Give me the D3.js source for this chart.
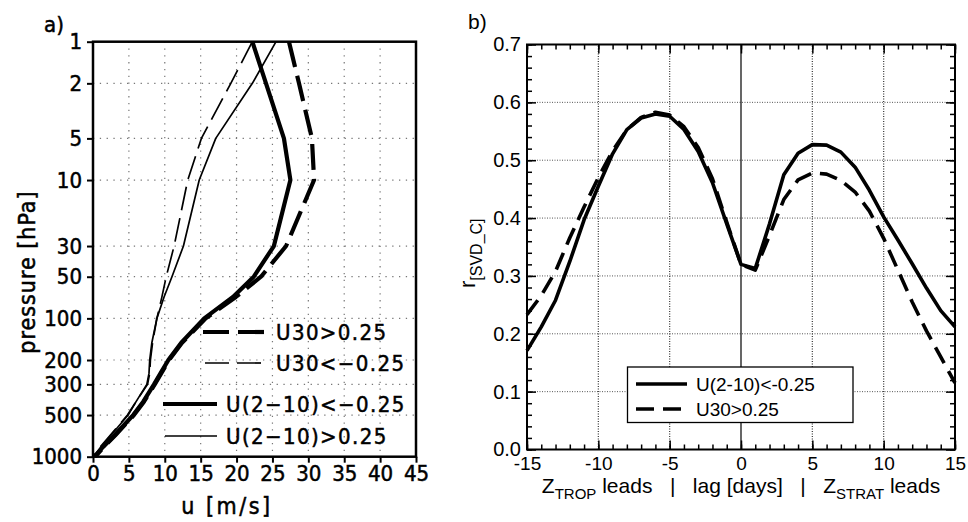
<!DOCTYPE html>
<html>
<head>
<meta charset="utf-8">
<script src="https://cdn.jsdelivr.net/npm/d3@7"></script>
<style>
  body { margin: 0; background: white; }
  .fa text { font-family: "DejaVu Sans Condensed", "DejaVu Sans", sans-serif; font-stretch: condensed; }
  .fb text { font-family: "Liberation Sans", Arial, sans-serif; }
</style>
</head>
<body>
<div id="container"></div>
<script>
let w = 968;
let h = 522;

// ---- panel a data: zonal wind profiles ----
let pLevels = [1, 2, 5, 10, 30, 50, 70, 100, 150, 200, 250, 300, 400, 500, 700, 850, 1000];
let uU30pos   = [27.3, 28.7, 30.5, 30.8, 26.9, 23.4, 19.9, 15.7, 12.4, 10.6, 9.5, 8.6, 7.1, 5.7, 3.1, 1.5, 0.3];   // U30>0.25
let uU30neg   = [22.2, 19.2, 15.1, 13.2, 11.3, 10.2, 9.6, 8.9, 8.3, 8.0, 7.9, 7.6, 6.0, 4.8, 2.4, 1.0, 0.0];     // U30<-0.25
let uU210neg  = [22.2, 24.1, 26.6, 27.5, 25.2, 22.4, 19.5, 15.5, 12.3, 10.5, 9.4, 8.5, 7.0, 5.6, 3.0, 1.4, 0.2];  // U(2-10)<-0.25
let uU210pos  = [25.5, 22.2, 17.1, 14.8, 12.6, 11.0, 9.9, 8.9, 8.2, 7.9, 7.8, 7.5, 6.0, 4.9, 2.5, 1.1, 0.1];      // U(2-10)>0.25
let pTicks = [1, 2, 5, 10, 30, 50, 100, 200, 300, 500, 1000];
let uTicks = [0, 5, 10, 15, 20, 25, 30, 35, 40, 45];

// ---- panel b data: lagged correlation ----
let lags = d3.range(-15, 16);
let rU210neg = [0.171, 0.212, 0.258, 0.325, 0.397, 0.455, 0.511, 0.553, 0.573, 0.580, 0.576, 0.553, 0.515, 0.461, 0.390, 0.320,
                0.313, 0.390, 0.475, 0.512, 0.527, 0.526, 0.514, 0.488, 0.448, 0.402, 0.362, 0.321, 0.279, 0.240, 0.212];
let rU30pos  = [0.233, 0.266, 0.308, 0.366, 0.419, 0.470, 0.516, 0.553, 0.574, 0.583, 0.578, 0.558, 0.522, 0.468, 0.393, 0.320,
                0.310, 0.370, 0.432, 0.466, 0.478, 0.476, 0.465, 0.445, 0.412, 0.365, 0.310, 0.255, 0.205, 0.160, 0.115];
let rTicks = [0, 0.1, 0.2, 0.3, 0.4, 0.5, 0.6, 0.7];
let lagTicks = [-15, -10, -5, 0, 5, 10, 15];

let viz = d3.select("#container")
  .append("svg")
    .attr("width", w)
    .attr("height", h)
    .style("background-color", "white");

// ================= panel a =================
let xA = d3.scaleLinear().domain([0, 45]).range([93, 416]);
let yA = d3.scaleLog().domain([1, 1000]).range([41.7, 456.7]);

let ga = viz.append("g").attr("class", "fa");

// dotted grid
ga.selectAll(".gy").data(pTicks.slice(1, -1)).enter().append("line")
  .attr("x1", xA(0)).attr("x2", xA(45))
  .attr("y1", d => yA(d)).attr("y2", d => yA(d))
  .attr("stroke", "#777").attr("stroke-width", 1.2).attr("stroke-dasharray", "1.3,5.5");
ga.selectAll(".gx").data(uTicks.slice(1, -1)).enter().append("line")
  .attr("y1", yA(1)).attr("y2", yA(1000))
  .attr("x1", d => xA(d)).attr("x2", d => xA(d))
  .attr("stroke", "#777").attr("stroke-width", 1.2).attr("stroke-dasharray", "1.3,5.5");

// axes
let axA_left = ga.append("g").attr("transform", "translate(" + xA(0) + ",0)")
  .call(d3.axisLeft(yA).tickValues(pTicks).tickFormat(d => String(d)).tickSize(6).tickPadding(5));
let axA_bot = ga.append("g").attr("transform", "translate(0," + yA(1000) + ")")
  .call(d3.axisBottom(xA).tickValues(uTicks).tickFormat(d => String(d)).tickSize(6).tickPadding(3));
[axA_left, axA_bot].forEach(a => {
  a.select(".domain").remove();
  a.selectAll(".tick line").attr("stroke", "#000").attr("stroke-width", 2);
  a.selectAll("text").attr("font-size", 22).attr("fill", "#000")
    .attr("stroke", "#000").attr("stroke-width", 0.5);
});

ga.append("rect")
  .attr("x", xA(0)).attr("y", yA(1))
  .attr("width", xA(45) - xA(0)).attr("height", yA(1000) - yA(1))
  .attr("fill", "none").attr("stroke", "#000").attr("stroke-width", 2.5);

let lineA = d3.line().x(d => xA(d[0])).y(d => yA(d[1]));
let seriesA = [
  {vals: uU30neg,  sw: 1.7, dash: "24,8", label: "U30<\u22120.25"},
  {vals: uU210pos, sw: 1.7, dash: null,   label: "U(2\u221210)>0.25"},
  {vals: uU30pos,  sw: 4.2, dash: "26,9", label: "U30>0.25"},
  {vals: uU210neg, sw: 4.2, dash: null,   label: "U(2\u221210)<\u22120.25"}
];
seriesA.forEach(s => {
  ga.append("path")
    .datum(s.vals.map((u, i) => [u, pLevels[i]]))
    .attr("d", lineA)
    .attr("fill", "none").attr("stroke", "#000")
    .attr("stroke-width", s.sw)
    .attr("stroke-dasharray", s.dash)
    .attr("stroke-linejoin", "round");
});

// legend a
let legA = [
  {s: seriesA[2], x1: 203, x2: 265, y: 332, tx: 276},
  {s: seriesA[0], x1: 205, x2: 265, y: 363, tx: 276},
  {s: seriesA[3], x1: 163, x2: 217, y: 404, tx: 226},
  {s: seriesA[1], x1: 165, x2: 217, y: 436, tx: 226}
];
legA.forEach(l => {
  ga.append("line").attr("x1", l.x1).attr("x2", l.x2).attr("y1", l.y).attr("y2", l.y)
    .attr("stroke", "#000").attr("stroke-width", l.s.sw).attr("stroke-dasharray", l.s.dash);
  ga.append("text").attr("x", l.tx).attr("y", l.y + 8)
    .attr("font-size", 22).attr("letter-spacing", 1.4)
    .attr("stroke", "#000").attr("stroke-width", 0.5)
    .text(l.s.label);
});

ga.append("text").attr("x", 227).attr("y", 514).attr("text-anchor", "middle")
  .attr("font-size", 23).attr("letter-spacing", 2.5)
  .attr("stroke", "#000").attr("stroke-width", 0.5).text("u [m/s]");
ga.append("text").attr("transform", "translate(35,272) rotate(-90)").attr("text-anchor", "middle")
  .attr("font-size", 23).attr("letter-spacing", 1)
  .attr("stroke", "#000").attr("stroke-width", 0.5).text("pressure [hPa]");
ga.append("text").attr("x", 44).attr("y", 32).attr("font-size", 22)
  .attr("stroke", "#000").attr("stroke-width", 0.5).text("a)");

// ================= panel b =================
let xB = d3.scaleLinear().domain([-15, 15]).range([527, 955]);
let yB = d3.scaleLinear().domain([0, 0.7]).range([449.5, 44.5]);

let gb = viz.append("g").attr("class", "fb");

gb.selectAll(".gy").data(rTicks.slice(1, -1)).enter().append("line")
  .attr("x1", xB(-15)).attr("x2", xB(15))
  .attr("y1", d => yB(d)).attr("y2", d => yB(d))
  .attr("stroke", "#555").attr("stroke-width", 1).attr("stroke-dasharray", "1,1.5");
gb.selectAll(".gx").data([-10, -5, 5, 10]).enter().append("line")
  .attr("y1", yB(0)).attr("y2", yB(0.7))
  .attr("x1", d => xB(d)).attr("x2", d => xB(d))
  .attr("stroke", "#333").attr("stroke-width", 1.2).attr("stroke-dasharray", "1,1.5");
gb.append("line")
  .attr("y1", yB(0)).attr("y2", yB(0.7))
  .attr("x1", xB(0)).attr("x2", xB(0))
  .attr("stroke", "#000").attr("stroke-width", 1.2);

// ticks (inward, all sides)
function styleAx(a) {
  a.select(".domain").remove();
  a.selectAll(".tick line").attr("stroke", "#000").attr("stroke-width", 1.5);
  a.selectAll("text").attr("font-size", 20).attr("fill", "#000");
}
let minorR = d3.range(0, 0.701, 0.02);
let minorL = d3.range(-15, 16, 1);
styleAx(gb.append("g").attr("transform", "translate(" + xB(-15) + ",0)")
  .call(d3.axisLeft(yB).tickValues(rTicks).tickFormat(d3.format(".1f")).tickSize(-9).tickPadding(6)));
styleAx(gb.append("g").attr("transform", "translate(" + xB(-15) + ",0)")
  .call(d3.axisLeft(yB).tickValues(minorR).tickFormat("").tickSize(-5)));
styleAx(gb.append("g").attr("transform", "translate(" + xB(15) + ",0)")
  .call(d3.axisRight(yB).tickValues(rTicks).tickFormat("").tickSize(-9)));
styleAx(gb.append("g").attr("transform", "translate(" + xB(15) + ",0)")
  .call(d3.axisRight(yB).tickValues(minorR).tickFormat("").tickSize(-5)));
let axB_bot = gb.append("g").attr("transform", "translate(0," + yB(0) + ")")
  .call(d3.axisBottom(xB).tickValues(lagTicks).tickFormat(d => String(d)).tickSize(-9).tickPadding(7));
styleAx(axB_bot);
axB_bot.selectAll("text").attr("font-size", 19);
styleAx(gb.append("g").attr("transform", "translate(0," + yB(0) + ")")
  .call(d3.axisBottom(xB).tickValues(minorL).tickFormat("").tickSize(-5)));
styleAx(gb.append("g").attr("transform", "translate(0," + yB(0.7) + ")")
  .call(d3.axisTop(xB).tickValues(lagTicks).tickFormat("").tickSize(-9)));
styleAx(gb.append("g").attr("transform", "translate(0," + yB(0.7) + ")")
  .call(d3.axisTop(xB).tickValues(minorL).tickFormat("").tickSize(-5)));

gb.append("rect")
  .attr("x", xB(-15)).attr("y", yB(0.7))
  .attr("width", xB(15) - xB(-15)).attr("height", yB(0) - yB(0.7))
  .attr("fill", "none").attr("stroke", "#000").attr("stroke-width", 2);

let lineB = d3.line().x(d => xB(d[0])).y(d => yB(d[1]));
let seriesB = [
  {vals: rU30pos,  dash: "18,9", label: "U30>0.25"},
  {vals: rU210neg, dash: null,   label: "U(2-10)<-0.25"}
];
seriesB.forEach(s => {
  gb.append("path")
    .datum(s.vals.map((r, i) => [lags[i], r]))
    .attr("d", lineB)
    .attr("fill", "none").attr("stroke", "#000")
    .attr("stroke-width", 3.6)
    .attr("stroke-dasharray", s.dash)
    .attr("stroke-linejoin", "round");
});

// legend b
gb.append("rect").attr("x", 627.5).attr("y", 367).attr("width", 225.5).attr("height", 55.5)
  .attr("fill", "white").attr("stroke", "#000").attr("stroke-width", 1.3);
[{s: seriesB[1], y: 384}, {s: seriesB[0], y: 409}].forEach(l => {
  gb.append("line").attr("x1", 636).attr("x2", 687).attr("y1", l.y).attr("y2", l.y)
    .attr("stroke", "#000").attr("stroke-width", 3.6).attr("stroke-dasharray", l.s.dash);
  gb.append("text").attr("x", 696).attr("y", l.y + 7).attr("font-size", 19).text(l.s.label);
});

// axis titles b
let xt = gb.append("text").attr("x", 741).attr("y", 493).attr("text-anchor", "middle").attr("font-size", 21);
xt.append("tspan").text("Z");
xt.append("tspan").attr("font-size", 15).attr("dy", 6).text("TROP");
xt.append("tspan").attr("dy", -6).text(" leads \u00a0 | \u00a0 lag [days] \u00a0 | \u00a0 Z");
xt.append("tspan").attr("font-size", 15).attr("dy", 6).text("STRAT");
xt.append("tspan").attr("dy", -6).text(" leads");

let yt = gb.append("text").attr("transform", "translate(475,288) rotate(-90)").attr("font-size", 22);
yt.append("tspan").text("r");
yt.append("tspan").attr("font-size", 16).attr("dy", 7).text("[SVD_C]");

gb.append("text").attr("x", 468).attr("y", 29).attr("font-size", 21).text("b)");
</script>
</body>
</html>
